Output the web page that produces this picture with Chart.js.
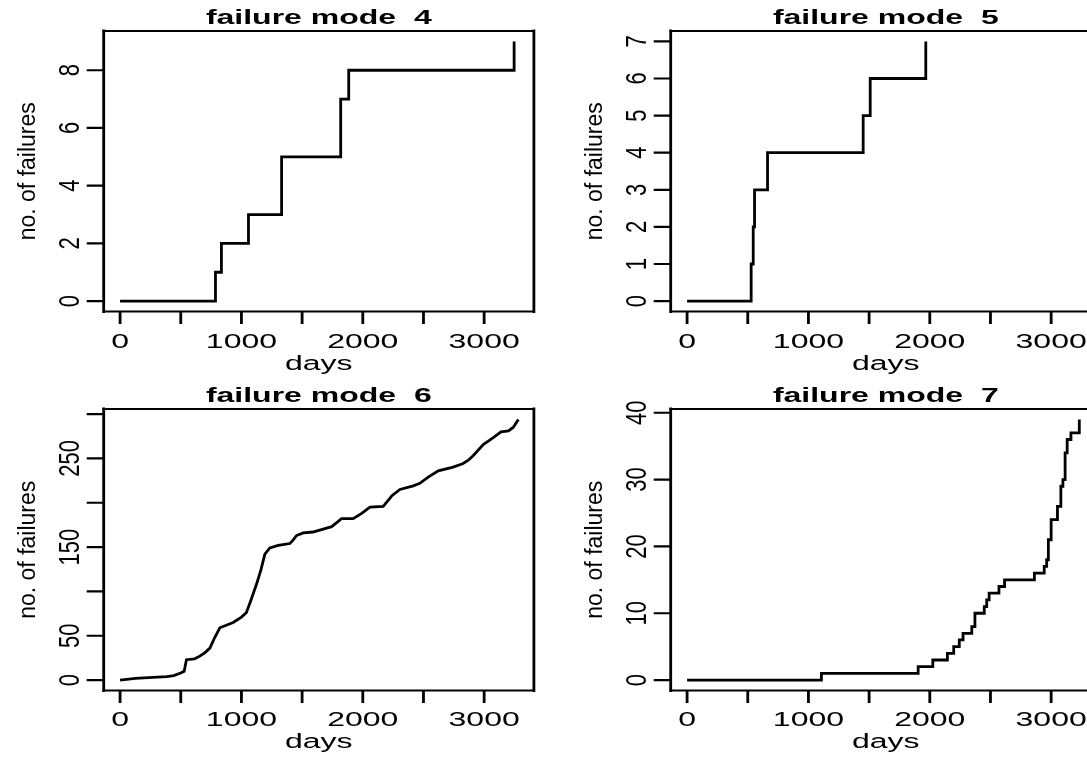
<!DOCTYPE html>
<html>
<head>
<meta charset="utf-8">
<script src="https://cdn.jsdelivr.net/npm/chart.js@4.4.0/dist/chart.umd.min.js"></script>
<style>
  html, body { margin: 0; padding: 0; background: #fff; overflow: hidden; }
  #page { position: relative; width: 1087px; height: 757px; overflow: hidden; background: #fff; }
  .panel { position: absolute; width: 567px; }
</style>
</head>
<body>
<div id="page">
  <div class="panel" style="left:0;top:0;height:378px"><canvas id="mode4"></canvas></div>
  <div class="panel" style="left:567px;top:0;height:378px"><canvas id="mode5"></canvas></div>
  <div class="panel" style="left:0;top:378px;height:379px"><canvas id="mode6"></canvas></div>
  <div class="panel" style="left:567px;top:378px;height:379px"><canvas id="mode7"></canvas></div>
</div>
<script>
// shared x axis (days)
var xTicks = [0, 500, 1000, 1500, 2000, 2500, 3000];
var xLabels = ['0', '', '1000', '', '2000', '', '3000'];

// failure mode 4
var mode4Days = [0, 786, 835, 1058, 1331, 1818, 1884, 3247];
var mode4Count = [0, 1, 2, 3, 5, 7, 8, 9];
var mode4Ticks = [0, 2, 4, 6, 8];
var mode4Labels = ['0', '2', '4', '6', '8'];

// failure mode 5
var mode5Days = [0, 528, 545, 556, 663, 1451, 1509, 1967];
var mode5Count = [0, 1, 2, 3, 4, 5, 6, 7];
var mode5Ticks = [0, 1, 2, 3, 4, 5, 6, 7];
var mode5Labels = ['0', '1', '2', '3', '4', '5', '6', '7'];

// failure mode 6
var mode6Days = [0, 126, 270, 385, 442, 499, 528, 547, 614, 657, 700, 740, 780, 822, 932, 1000, 1040, 1073,
    1124, 1160, 1193, 1234, 1303, 1399, 1420, 1454, 1509, 1589, 1743, 1780, 1825, 1921, 1991, 2059, 2168,
    2223, 2240, 2306, 2416, 2470, 2539, 2622, 2737, 2823, 2870, 2909, 2995, 3040, 3081, 3139, 3200, 3239, 3282];
var mode6Count = [0, 2, 3, 4, 5, 8, 10, 23, 24, 27, 31, 36, 48, 59, 65, 71, 76, 88,
    108, 124, 142, 149, 152, 154, 157, 163, 166, 167, 173, 177, 182, 182, 188, 195, 196,
    205, 208, 215, 219, 222, 229, 236, 240, 244, 248, 253, 266, 270, 274, 280, 281, 285, 294];
var mode6Ticks = [0, 50, 100, 150, 200, 250, 300];
var mode6Labels = ['0', '50', '', '150', '', '250', ''];

// failure mode 7
var mode7Days = [0, 1107, 1904, 2025, 2145, 2197, 2243, 2274, 2346, 2372, 2449, 2469, 2489, 2570, 2616,
    2862, 2943, 2963, 2977, 3000, 3052, 3080, 3097, 3115, 3132, 3163, 3232];
var mode7Count = [0, 1, 2, 3, 4, 5, 6, 7, 8, 10, 11, 12, 13, 14, 15,
    16, 17, 18, 21, 24, 26, 29, 30, 34, 36, 37, 39];
var mode7Ticks = [0, 10, 20, 30, 40];
var mode7Labels = ['0', '10', '20', '30', '40'];

var FONT = '"Liberation Sans", Arial, Helvetica, sans-serif';

function hText(ctx, str, x, y, font, sx) {
    ctx.save();
    ctx.translate(x, y);
    ctx.scale(sx, 1);
    ctx.font = font;
    ctx.textAlign = 'center';
    ctx.textBaseline = 'alphabetic';
    ctx.fillText(str, 0, 0);
    ctx.restore();
}

// text reading upwards, baseline at x
function vText(ctx, str, x, y, font, sy) {
    ctx.save();
    ctx.translate(x, y);
    ctx.rotate(-Math.PI / 2);
    ctx.scale(1, sy);
    ctx.font = font;
    ctx.textAlign = 'center';
    ctx.textBaseline = 'alphabetic';
    ctx.fillText(str, 0, 0);
    ctx.restore();
}

// box, ticks and labels drawn the way base R does it
var rAxes = {
    id: 'rAxes',
    afterDraw: function (chart) {
        var o = chart.options.plugins.rAxes;
        var ctx = chart.ctx;
        var a = chart.chartArea;
        var xs = chart.scales.x, ys = chart.scales.y;
        ctx.save();
        ctx.strokeStyle = '#000';
        ctx.fillStyle = '#000';
        ctx.lineCap = 'square';

        // box
        ctx.lineWidth = 2.2;
        ctx.beginPath();
        ctx.moveTo(a.left, a.top); ctx.lineTo(a.right, a.top);
        ctx.moveTo(a.left, a.bottom); ctx.lineTo(a.right, a.bottom);
        ctx.stroke();
        ctx.lineWidth = 2.8;
        ctx.beginPath();
        ctx.moveTo(a.left, a.top); ctx.lineTo(a.left, a.bottom);
        ctx.moveTo(a.right, a.top); ctx.lineTo(a.right, a.bottom);
        ctx.stroke();

        // x ticks
        ctx.lineCap = 'butt';
        ctx.lineWidth = 2.8;
        ctx.beginPath();
        xTicks.forEach(function (v) {
            var px = xs.getPixelForValue(v);
            ctx.moveTo(px, a.bottom); ctx.lineTo(px, a.bottom + 12.5);
        });
        ctx.stroke();
        xTicks.forEach(function (v, i) {
            if (xLabels[i]) hText(ctx, xLabels[i], xs.getPixelForValue(v), 347.5, '20px ' + FONT, 1.6);
        });

        // y ticks
        ctx.lineWidth = 2.2;
        ctx.beginPath();
        o.yTicks.forEach(function (v) {
            var py = ys.getPixelForValue(v);
            ctx.moveTo(a.left, py); ctx.lineTo(a.left - 17, py);
        });
        ctx.stroke();
        o.yTicks.forEach(function (v, i) {
            if (o.yLabels[i]) vText(ctx, o.yLabels[i], 79, ys.getPixelForValue(v), '22px ' + FONT, 1.35);
        });

        // titles
        var cx = (a.left + a.right) / 2;
        hText(ctx, o.title, cx, 24, 'bold 20px ' + FONT, 1.6);
        hText(ctx, 'days', cx, 370, '20px ' + FONT, 1.6);
        vText(ctx, 'no. of failures', 35, (a.top + a.bottom) / 2, '23px ' + FONT, 1.0);
        ctx.restore();
    }
};

function makePanel(id, title, days, count, yTicks, yLabels, ymin, ymax, stepped) {
    var pts = days.map(function (d, i) { return { x: d, y: count[i] }; });
    return new Chart(document.getElementById(id), {
        type: 'line',
        data: {
            datasets: [{
                data: pts,
                borderColor: '#000',
                borderWidth: 2.8,
                pointRadius: 0,
                fill: false,
                tension: 0,
                stepped: stepped
            }]
        },
        options: {
            responsive: true,
            maintainAspectRatio: false,
            animation: false,
            events: [],
            layout: { padding: { left: 103.7, right: 33.1, top: 31, bottom: 66.5 } },
            scales: {
                x: { type: 'linear', display: false, min: -135, max: 3410 },
                y: { type: 'linear', display: false, min: ymin, max: ymax }
            },
            plugins: {
                legend: { display: false },
                tooltip: { enabled: false },
                rAxes: { title: title, yTicks: yTicks, yLabels: yLabels }
            }
        },
        plugins: [rAxes]
    });
}

makePanel('mode4', 'failure mode  4', mode4Days, mode4Count, mode4Ticks, mode4Labels, -0.36, 9.36, 'before');
makePanel('mode5', 'failure mode  5', mode5Days, mode5Count, mode5Ticks, mode5Labels, -0.28, 7.28, 'before');
makePanel('mode6', 'failure mode  6', mode6Days, mode6Count, mode6Ticks, mode6Labels, -11.76, 305.76, false);
makePanel('mode7', 'failure mode  7', mode7Days, mode7Count, mode7Ticks, mode7Labels, -1.56, 40.56, 'before');
</script>
</body>
</html>
